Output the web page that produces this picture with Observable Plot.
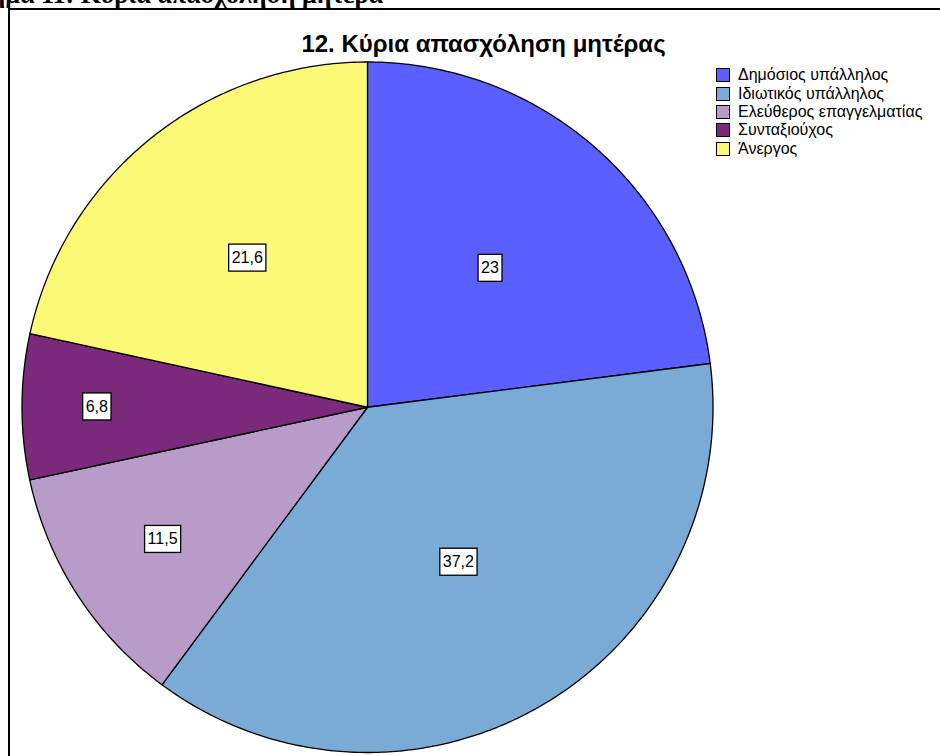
<!DOCTYPE html>
<html>
<head>
<meta charset="utf-8">
<script src="https://cdn.jsdelivr.net/npm/d3@7"></script>
<script src="https://cdn.jsdelivr.net/npm/@observablehq/plot@0.6"></script>
<style>
  body { margin: 0; background: #fff; }
  #wrap { position: relative; width: 940px; height: 756px; overflow: hidden; background: #fff;
          font-family: "Liberation Sans", Arial, sans-serif; }
  #caption { position: absolute; right: 557px; top: -20px; line-height: 30px; white-space: nowrap;
             font-family: "Liberation Serif", "Times New Roman", serif; font-weight: bold; font-size: 26px; }
  #frame { position: absolute; left: 8px; top: 8px; width: 1000px; height: 1000px;
           border-top: 2px solid #000; border-left: 2px solid #000; }
  #chart { position: absolute; left: 0; top: 0; }
  #title { position: absolute; left: 0; width: 967px; top: 30px; line-height: 28px; text-align: center;
           font-weight: bold; font-size: 24px; color: #000; }
  #legend { position: absolute; left: 716px; top: 66px; font-size: 16px; color: #000; }
  .row { display: flex; align-items: center; height: 18.4px; white-space: nowrap; }
  .sw { width: 12px; height: 12px; border: 1px solid #000; margin-right: 8px; flex: none; }
</style>
</head>
<body>
<div id="wrap">
  <div id="caption">Γράφημα 11: Κύρια απασχόληση μητέρα</div>
  <div id="frame"></div>
  <div id="chart"></div>
  <div id="title">12. Κύρια απασχόληση μητέρας</div>
  <div id="legend"></div>
</div>
<script>
// ---- data ----
const categories = ["Δημόσιος υπάλληλος", "Ιδιωτικός υπάλληλος", "Ελεύθερος επαγγελματίας", "Συνταξιούχος", "Άνεργος"];
const percents = [23, 37.2, 11.5, 6.8, 21.6];
const valueLabels = ["23", "37,2", "11,5", "6,8", "21,6"];
const colors = ["#5c5fff", "#7aaad6", "#b89bc9", "#7b297b", "#fbf976"];

// ---- build slices ----
const rows = categories.map((c, i) => ({cat: c, value: percents[i], label: valueLabels[i]}));
const arcs = d3.pie().sort(null).value(d => d.value)(rows);

const slicePoints = [];
arcs.forEach(a => {
  slicePoints.push({cat: a.data.cat, x: 0, y: 0});
  const n = Math.max(2, Math.ceil((a.endAngle - a.startAngle) / 0.01));
  for (let k = 0; k <= n; k++) {
    const t = a.startAngle + (a.endAngle - a.startAngle) * k / n;
    slicePoints.push({cat: a.data.cat, x: Math.sin(t), y: Math.cos(t)});
  }
});

// labels sit further out in narrow slices (as the chart software does)
const labelData = arcs.map(a => {
  const m = (a.startAngle + a.endAngle) / 2;
  const half = (a.endAngle - a.startAngle) / 2;
  const rr = Math.max(0.52, 0.9 - 0.55 * Math.sin(Math.min(half, Math.PI / 2)));
  return {label: a.data.label, x: rr * Math.sin(m), y: rr * Math.cos(m)};
});

const chart = Plot.plot({
  width: 940,
  height: 756,
  marginLeft: 21.5,
  marginRight: 227.5,
  marginTop: 61.5,
  marginBottom: 4,
  x: {domain: [-1, 1], axis: null},
  y: {domain: [-1, 1], axis: null},
  color: {domain: categories, range: colors},
  style: {background: "transparent", fontFamily: "'Liberation Sans', Arial, sans-serif"},
  marks: [
    Plot.line(slicePoints, {x: "x", y: "y", z: "cat", fill: "cat", stroke: "#000", strokeWidth: 1.3, curve: "linear-closed"}),
    Plot.text(labelData, {x: "x", y: "y", text: "label", fontSize: 16, fill: "#000"})
  ]
});
document.getElementById("chart").appendChild(chart);

// white boxes behind the value labels
const textGroups = chart.querySelectorAll('g[aria-label="text"]');
const lg = textGroups[textGroups.length - 1];
if (lg) {
  Array.from(lg.querySelectorAll("text")).forEach(t => {
    const bb = t.getBBox();
    const r = document.createElementNS("http://www.w3.org/2000/svg", "rect");
    r.setAttribute("x", bb.x - 3);
    r.setAttribute("y", bb.y + bb.height / 2 - 13.5);
    r.setAttribute("width", bb.width + 6);
    r.setAttribute("height", 27);
    r.setAttribute("fill", "#fff");
    r.setAttribute("stroke", "#000");
    r.setAttribute("stroke-width", 1.3);
    const tr = t.getAttribute("transform");
    if (tr) r.setAttribute("transform", tr);
    lg.insertBefore(r, t);
  });
}

// legend
const legend = document.getElementById("legend");
categories.forEach((c, i) => {
  const row = document.createElement("div");
  row.className = "row";
  const sw = document.createElement("div");
  sw.className = "sw";
  sw.style.background = colors[i];
  const tx = document.createElement("span");
  tx.textContent = c;
  row.appendChild(sw);
  row.appendChild(tx);
  legend.appendChild(row);
});
</script>
</body>
</html>
